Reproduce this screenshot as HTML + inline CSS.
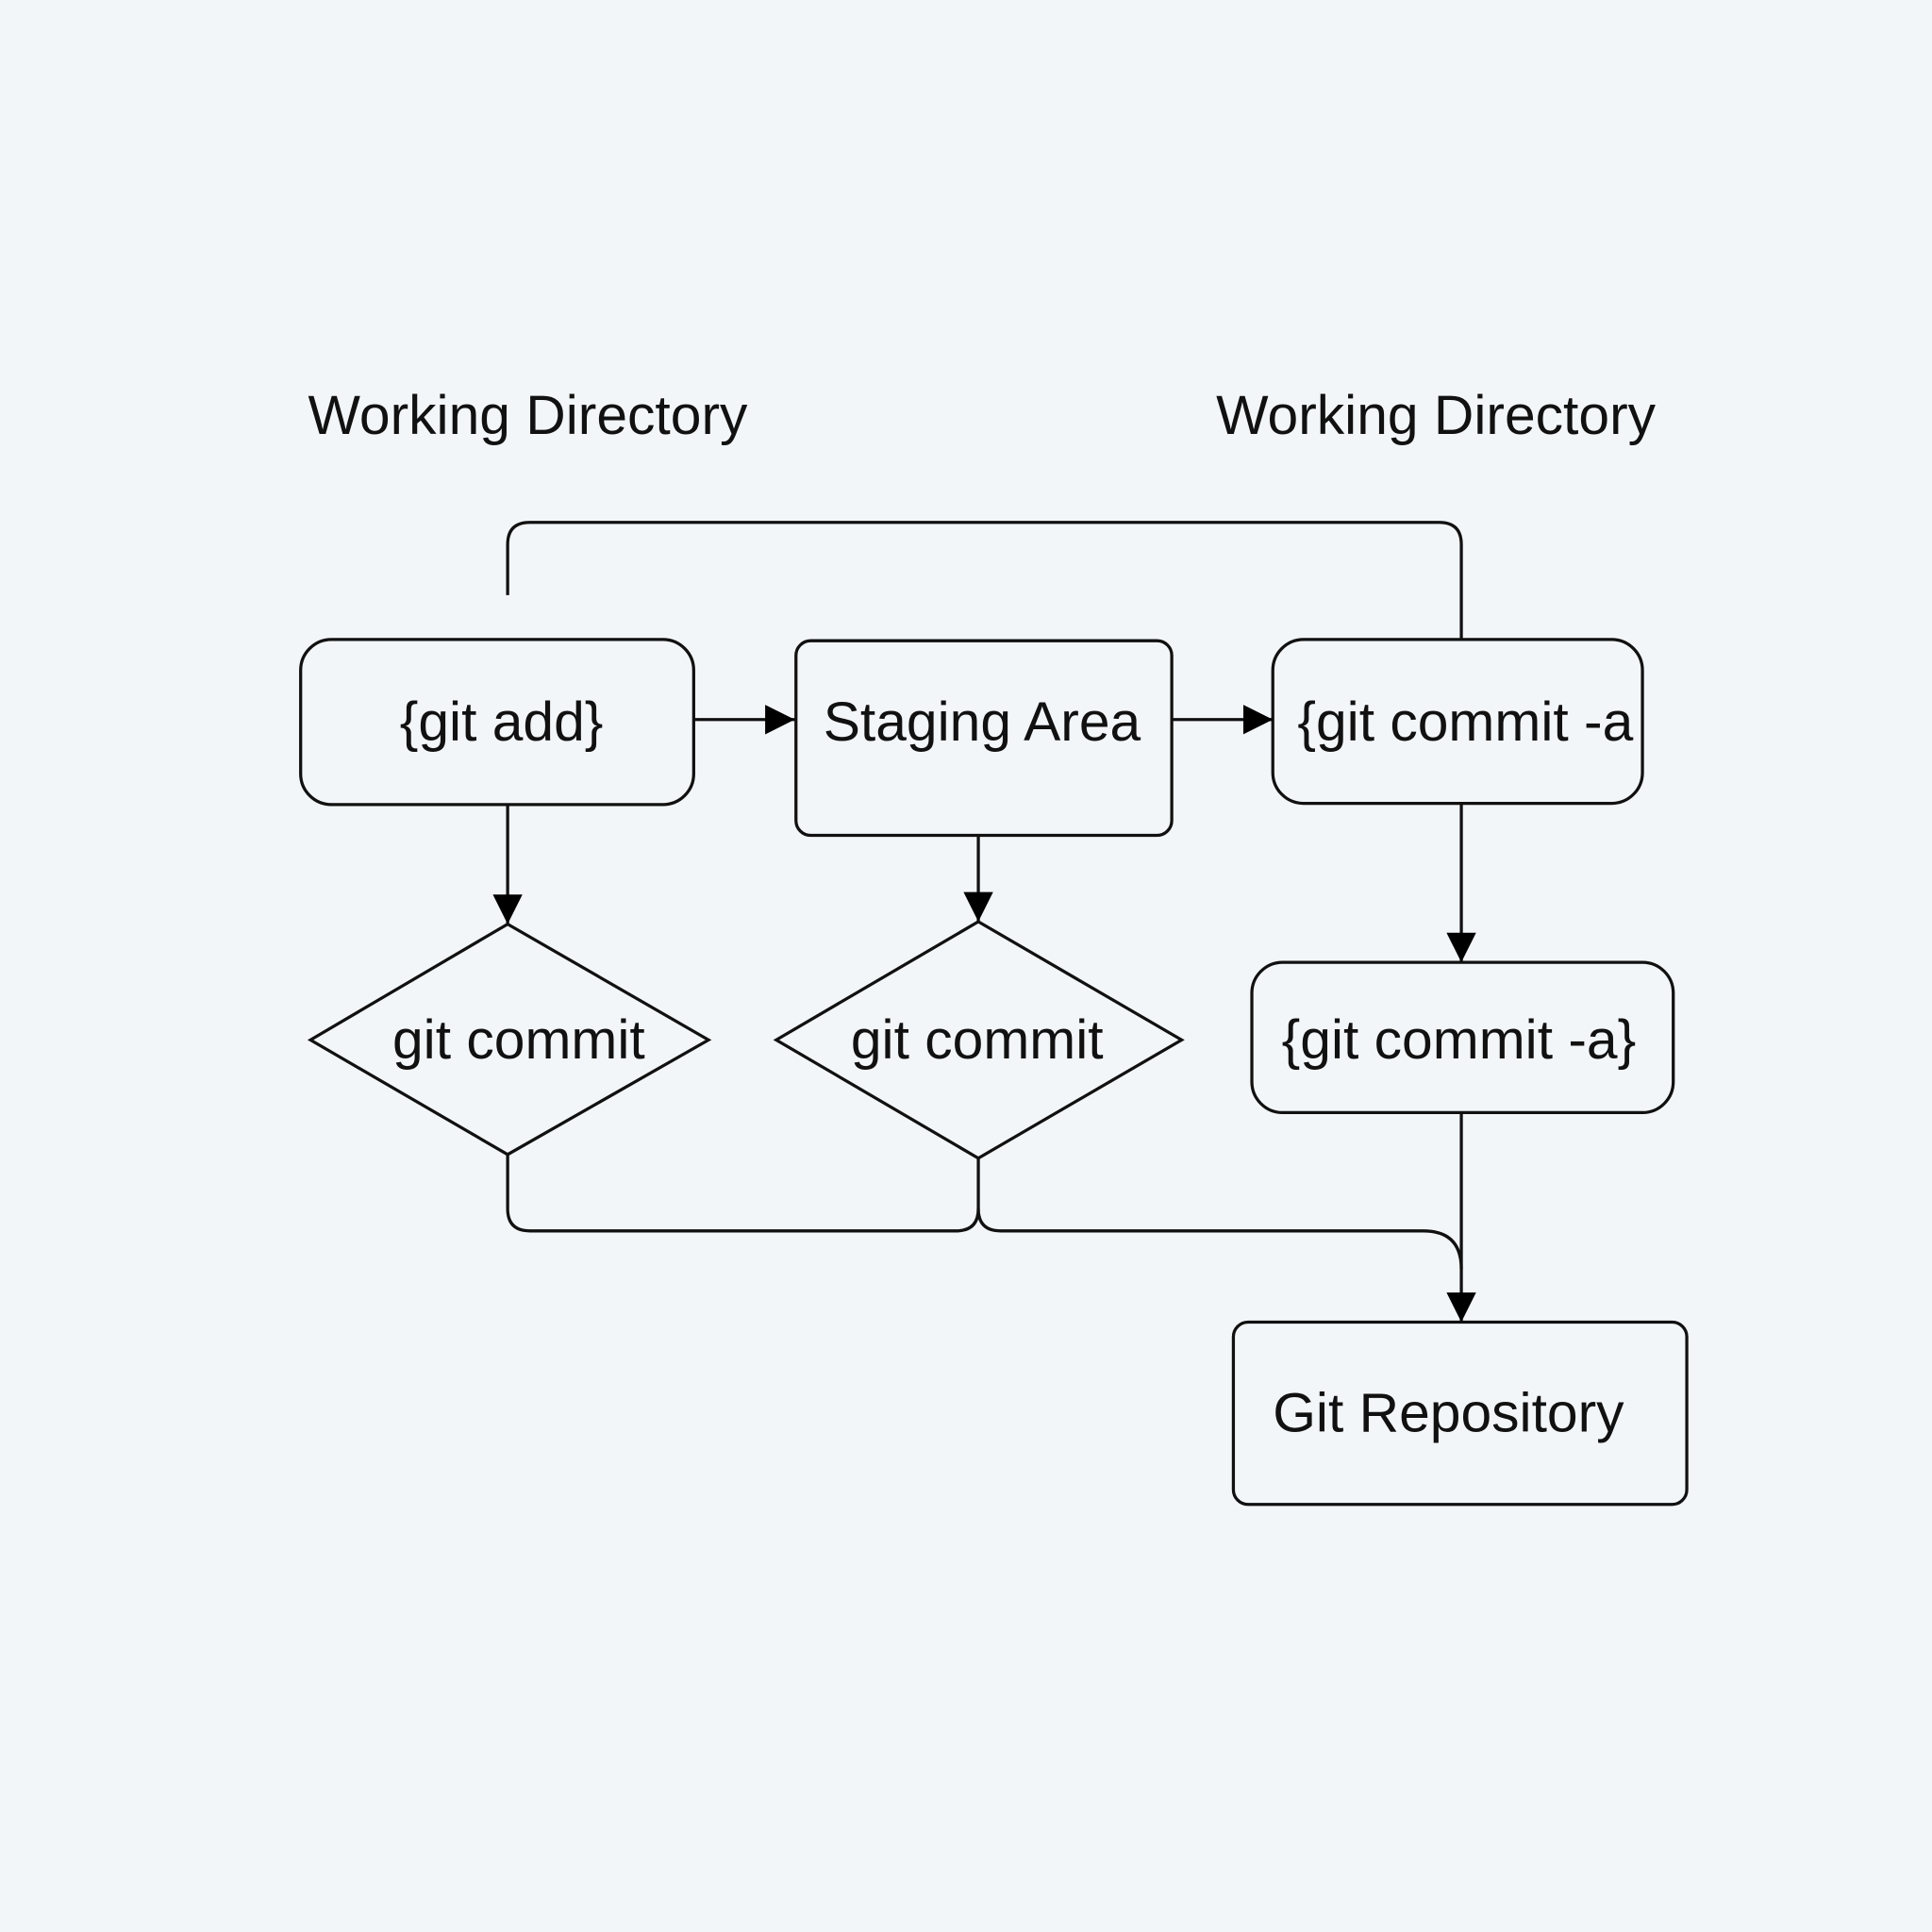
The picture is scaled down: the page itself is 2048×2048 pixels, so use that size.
<!DOCTYPE html>
<html><head><meta charset="utf-8"><style>
html,body{margin:0;padding:0;background:#f3f6f9;}
svg{display:block}
text{font-family:"Liberation Sans","DejaVu Sans",sans-serif;font-size:45px;fill:#111;}
</style></head><body>
<svg width="2048" height="2048" viewBox="0 0 1568 1568" xmlns="http://www.w3.org/2000/svg">
<defs><marker id="a" markerWidth="10" markerHeight="10" refX="9" refY="5" orient="auto" markerUnits="userSpaceOnUse" viewBox="0 0 10 10"><path d="M0,0 L10,5 L0,10 z" fill="#000"/></marker>
<marker id="b" viewBox="0 0 10 10" refX="10" refY="5" markerWidth="24" markerHeight="26" orient="auto" markerUnits="userSpaceOnUse"><path d="M0,0 L10,5 L0,10 z" fill="#000"/></marker></defs>
<rect width="1568" height="1568" fill="#f3f6f9"/>
<g fill="none" stroke="#111" stroke-width="2.5">
<text x="250" y="352" stroke="none">Working Directory</text>
<text x="987" y="352" stroke="none">Working Directory</text>
<path d="M412,483 V442 Q412,424 430,424 H1168 Q1186,424 1186,442 V519"/>
<rect x="244" y="519" width="319" height="134" rx="25"/>
<rect x="646" y="520" width="305" height="158" rx="12"/>
<rect x="1033" y="519" width="300" height="133" rx="25"/>
<rect x="1016" y="781" width="342" height="122" rx="25"/>
<rect x="1001" y="1073" width="368" height="148" rx="12"/>
<path d="M563,584 H645" marker-end="url(#b)"/>
<path d="M951,584 H1033" marker-end="url(#b)"/>
<path d="M412,653 V750" marker-end="url(#b)"/>
<path d="M794,678 V748" marker-end="url(#b)"/>
<path d="M1186,652 V781" marker-end="url(#b)"/>
<path d="M1186,903 V1073" marker-end="url(#b)"/>
<path d="M252,844 L412,750 L575,844 L412,937 Z"/>
<path d="M630,844 L794,748 L959,844 L794,940 Z"/>
<path d="M412,937 V981 Q412,999 430,999 H776 Q794,999 794,981 V940"/>
<path d="M794,981 Q794,999 812,999 H1155 Q1186,999 1186,1030"/>
</g>
<text x="407" y="601" text-anchor="middle">{git add}</text>
<text x="797" y="601" text-anchor="middle">Staging Area</text>
<text x="1053" y="601">{git commit -a</text>
<text x="421" y="859" text-anchor="middle">git commit</text>
<text x="793" y="859" text-anchor="middle">git commit</text>
<text x="1184" y="859" text-anchor="middle">{git commit -a}</text>
<text x="1033" y="1162">Git Repository</text>
</svg>
</body></html>
